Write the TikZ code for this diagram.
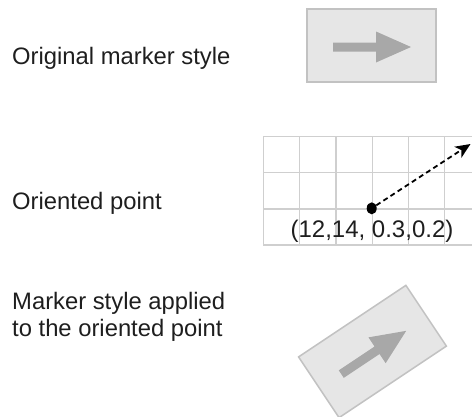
\documentclass[tikz,border=0pt]{standalone}
\usepackage{fontspec}
\setmainfont{Liberation Sans}
\usetikzlibrary{arrows.meta,shapes.geometric}
\definecolor{boxfill}{HTML}{E6E6E6}
\definecolor{boxline}{HTML}{C2C2C2}
\definecolor{markfill}{HTML}{A8A8A8}
\definecolor{gridline}{HTML}{CFCFCF}
\definecolor{txt}{HTML}{1E1E1E}
\tikzset{
  label text/.style={font=\fontsize{23.8}{27}\selectfont, text=txt, inner sep=0pt, align=left},
  markerbox/.style={draw=boxline, line width=1.5pt, fill=boxfill, minimum width=129pt, minimum height=73pt, inner sep=0pt},
  markerarrow/.style={fill=markfill, draw=none},
  gridstyle/.style={draw=gridline, line width=1.3pt},
  dotstyle/.style={fill=black, ellipse, minimum width=10pt, minimum height=12pt, inner sep=0pt},
}
\begin{document}
\begin{tikzpicture}[x=1pt,y=-1pt]
\useasboundingbox (0,0) rectangle (472,416);
% labels
\node[label text, anchor=base west] (l1) at (12,64) {Original marker style};
\node[label text, anchor=base west] (l2) at (12,209) {Oriented point};
\node[label text, anchor=base west] (l3) at (12,336) {Marker style applied\\to the oriented point};
% original marker
\node[markerbox] (m1) at (371.5,45.5) {};
\fill[markerarrow, shift={(m1.center)}] (-38.5,-3) -- (4.5,-3) -- (4.5,-14) -- (39.5,1.5) -- (4.5,17) -- (4.5,6) -- (-38.5,6) -- cycle;
% grid
\foreach \i in {0,...,5} {
  \draw[gridstyle] ({263.3+36.3*\i},136.7) -- ({263.3+36.3*\i},245);
}
\foreach \j in {0,...,3} {
  \draw[gridstyle] (263.3,{136.7+36.1*\j}) -- (472,{136.7+36.1*\j});
}
\node[dotstyle] (pt) at (371.7,208.3) {};
\coordinate (tip) at (470.5,144);
\draw[line width=1.8pt, dash pattern=on 5pt off 3.5pt, -{Stealth[length=15pt,width=13pt,inset=4pt]}] (pt) -- (tip);
\node[label text, font=\fontsize{24}{27}\selectfont, anchor=base] (coords) at (372,237) {(12,14, 0.3,0.2)};
% rotated marker
\node[markerbox, rotate=33.69] (m2) at (372.5,351.5) {};
\fill[markerarrow, shift={(m2.center)}, rotate=33.69] (-38.5,-3) -- (4.5,-3) -- (4.5,-14) -- (39.5,1.5) -- (4.5,17) -- (4.5,6) -- (-38.5,6) -- cycle;
\end{tikzpicture}
\end{document}
